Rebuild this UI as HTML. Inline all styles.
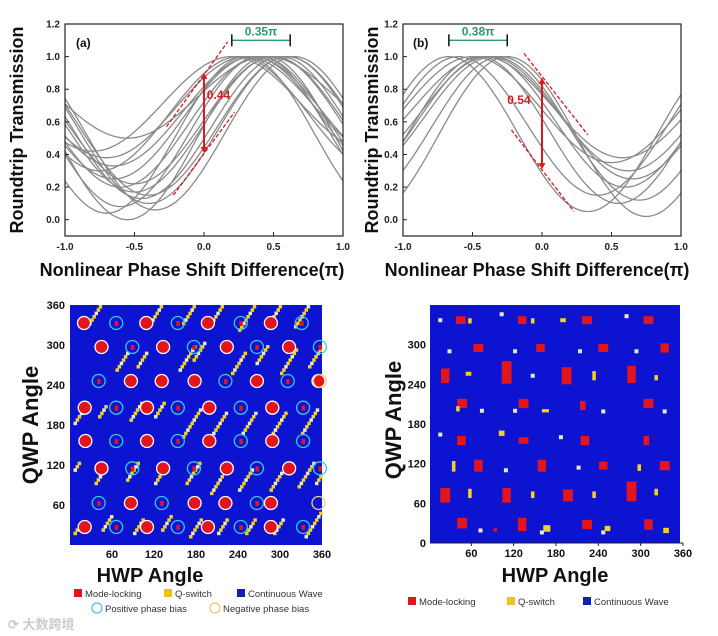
<!DOCTYPE html>
<html><head><meta charset="utf-8"><style>
body{margin:0;background:#fff;width:718px;height:636px;overflow:hidden}
svg{display:block;font-family:"Liberation Sans",Arial,sans-serif}
</style></head><body>
<svg id="fig" width="718" height="636" viewBox="0 0 718 636"></svg>
<script>
// ---- data panel (a)
const aPeaks=[0.45,0.2,0.3,0.25,0.35,0.4,0.5,0.55,0.6,0.65,0.3,0.45,0.5,0.35,0.6,0.4];
const aMins=[0.5,0.42,0.38,0.3,0.25,0.2,0.17,0.13,0.1,0.06,0.04,0.0,0.22,0.33,0.15,0.08];
// ---- data panel (b)
const bPeaks=[-0.67,-0.6,-0.5,-0.45,-0.4,-0.38,-0.35,-0.3,-0.25,-0.42];
const bMins=[0.05,0.15,0.35,0.1,0.2,0.3,0.25,0.12,0.02,0.38];
const yTicks=[0,0.2,0.4,0.6,0.8,1.0,1.2];
const xTicks=[-1,-0.5,0,0.5,1];
// ---- heatmap (c): circles [hwp,qwp]
const cRed=[[20,333],[109,333],[197,333],[287,333],[45,297],[133,297],[224,297],[313,297],[87,246],[131,246],[178,246],[267,246],[355,246],[21,206],[110,206],[199,206],[289,206],[22,156],[110,156],[199,156],[289,156],[45,115],[133,115],[224,115],[313,115],[87,63],[178,63],[222,63],[287,63],[21,27],[110,27],[197,27],[287,27]];
const cCyan=[[66,333],[154,333],[244,333],[331,333],[89,297],[177,297],[267,297],[357,297],[41,246],[222,246],[311,246],[66,206],[154,206],[244,206],[333,206],[66,156],[154,156],[244,156],[333,156],[89,115],[177,115],[267,115],[357,115],[41,63],[131,63],[267,63],[66,27],[154,27],[244,27],[333,27]];
const cYellowRing=[[355,63],[357,246]];
// streaks: [hwp0, qwp0, cell count]
const cStreaks=[[26,330,6],[110,325,7],[160,330,8],[200,330,6],[240,320,8],[280,325,8],[320,325,7],
[65,260,6],[95,265,5],[155,260,8],[175,275,6],[230,255,7],[265,270,6],[300,255,8],[340,265,8],
[5,180,5],[40,190,4],[85,185,6],[120,190,5],[160,160,9],[200,160,8],[245,165,7],[285,160,8],[330,165,8],
[5,110,3],[35,90,5],[80,95,6],[120,90,5],[165,90,7],[200,75,8],[240,80,7],[285,80,6],[325,85,8],[350,90,4],
[5,15,4],[45,20,5],[90,15,5],[130,20,5],[170,10,6],[210,15,5],[250,15,5],[290,15,5],[335,10,8]];
// ---- heatmap (d): red blobs [hwp,qwp,wDeg,hDeg]
const dRed=[[45,337,14,12],[132,337,12,12],[224,337,14,12],[311,337,14,12],
[70,295,14,12],[158,295,12,12],[247,295,14,12],[334,295,12,14],
[23,253,12,22],[110,258,14,34],[195,253,14,26],[287,255,12,26],
[47,211,14,14],[134,211,14,14],[218,208,8,14],[311,211,14,14],
[46,155,12,14],[134,155,14,10],[221,155,12,14],[308,155,8,14],
[70,117,12,18],[160,117,12,18],[247,117,12,12],[334,117,14,14],
[23,72,14,22],[110,72,12,22],[197,72,14,18],[287,78,14,30],
[47,30,14,16],[132,28,12,20],[224,28,14,14],[311,28,12,16],[94,20,5,5]];
const dYellow=[[58,336,5,8],[147,336,5,8],[190,337,8,6],[56,256,8,6],[234,253,5,14],[322,250,5,8],[41,203,5,8],[165,200,10,5],[103,166,8,8],[35,116,5,16],[298,114,5,10],[58,75,5,14],[147,73,5,10],[234,73,5,10],[322,77,5,10],[167,22,10,10],[253,22,8,8],[336,19,8,8]];
const dWhite=[[16,337],[103,346],[280,343],[29,290],[122,290],[214,290],[294,290],[147,253],[75,200],[122,200],[247,199],[334,199],[16,164],[187,160],[109,110],[212,114],[73,19],[247,16],[160,16]];

const svg=document.getElementById('fig');
const NS='http://www.w3.org/2000/svg';
function mk(tag,attrs,parent,text){const e=document.createElementNS(NS,tag);for(const k in attrs)e.setAttribute(k,attrs[k]);if(text!==undefined)e.textContent=text;(parent||svg).appendChild(e);return e;}

function linePanel(id,x0,x1,y0,y1,peaks,mins){
  const sx=v=>x0+(v+1)/2*(x1-x0);
  const sy=v=>y1-(v+0.1)/1.3*(y1-y0);
  const g=mk('g',{},svg);
  
  
  const cp=mk('clipPath',{id:'clip'+id},g);
  mk('rect',{x:x0,y:y0,width:x1-x0,height:y1-y0},cp);
  const cg=mk('g',{'clip-path':'url(#clip'+id+')'},g);
  peaks.forEach((p,i)=>{
    let d='';
    for(let k=0;k<=120;k++){const x=-1+k/60;const v=mins[i]+(1-mins[i])*(1+Math.cos(Math.PI*(x-p)))/2;d+=(k?'L':'M')+sx(x).toFixed(1)+','+sy(v).toFixed(1);}
    const pth=mk('path',{d:d,fill:'none',stroke:'#8a8a8a','stroke-width':1.3},cg);
    
    
  });
  const fr=mk('rect',{x:x0,y:y0,width:x1-x0,height:y1-y0,fill:'none',stroke:'#222','stroke-width':1.2},g);
  
  
  yTicks.forEach(t=>{
    mk('line',{x1:x0,x2:x0+4,y1:sy(t),y2:sy(t),stroke:'#222'},g);
    const tl=mk('text',{x:x0-5,y:sy(t)+3.5,'text-anchor':'end','font-size':10,'font-weight':'bold',fill:'#222'},g,t.toFixed(1));
    
    
  });
  xTicks.forEach(t=>{
    mk('line',{x1:sx(t),x2:sx(t),y1:y1,y2:y1-4,stroke:'#222'},g);
    const tl=mk('text',{x:sx(t),y:y1+14,'text-anchor':'middle','font-size':10,'font-weight':'bold',fill:'#222'},g,t.toFixed(1));
    
    
  });
  return {sx,sy,g};
}
function txt(x,y,s,size,name,extra){const t=mk('text',Object.assign({x:x,y:y,'font-size':size,'font-weight':'bold',fill:'#111'},extra||{}),svg,s);return t;}

// panel a
const A=linePanel('a',65,343,24,236,aPeaks,aMins);
txt(76,47,'(a)',12,'panel-label-a');
txt(17,130,'Roundtrip Transmission',18,'y-axis-title-a',{transform:'rotate(-90 17 130)','text-anchor':'middle',y:136});
txt(192,276,'Nonlinear Phase Shift Difference(π)',18,'x-axis-title-a',{'text-anchor':'middle'});
function annot(P,b0,b1,lab,arrX,aTop,aBot,num,numX,numY,d1,d2){
  const g=P.g, by=P.sy(1.1);
  mk('line',{x1:P.sx(b0),x2:P.sx(b1),y1:by,y2:by,stroke:'#2e9a6a','stroke-width':1.3},g);
  mk('line',{x1:P.sx(b0),x2:P.sx(b0),y1:by-6,y2:by+6,stroke:'#111','stroke-width':1.5},g);
  mk('line',{x1:P.sx(b1),x2:P.sx(b1),y1:by-6,y2:by+6,stroke:'#111','stroke-width':1.5},g);
  txt((P.sx(b0)+P.sx(b1))/2,by-5,lab,12,'phase-bias-label',{'text-anchor':'middle',fill:'#2e9a6a'});
  mk('line',{x1:P.sx(arrX),x2:P.sx(arrX),y1:P.sy(aTop)+4,y2:P.sy(aBot)-4,stroke:'#d8191f','stroke-width':2},g);
  mk('path',{d:`M${P.sx(arrX)-3.5},${P.sy(aTop)+6}L${P.sx(arrX)},${P.sy(aTop)}L${P.sx(arrX)+3.5},${P.sy(aTop)+6}Z M${P.sx(arrX)-3.5},${P.sy(aBot)-6}L${P.sx(arrX)},${P.sy(aBot)}L${P.sx(arrX)+3.5},${P.sy(aBot)-6}Z`,fill:'#d8191f'},g);
  txt(P.sx(numX),P.sy(numY),num,12,'modulation-depth-label',{fill:'#d8191f'});
  [d1,d2].forEach(d=>mk('line',{x1:P.sx(d[0]),y1:P.sy(d[1]),x2:P.sx(d[2]),y2:P.sy(d[3]),stroke:'#d8191f','stroke-width':1.3,'stroke-dasharray':'4,2'},g));
}
annot(A,0.2,0.62,'0.35π',0,0.9,0.41,'0.44',0.02,0.74,[-0.27,0.57,0.17,1.09],[-0.22,0.15,0.22,0.66]);

// panel b
const B=linePanel('b',403,681,24,236,bPeaks,bMins);
txt(413,47,'(b)',12,'panel-label-b');
txt(372,130,'Roundtrip Transmission',18,'y-axis-title-b',{transform:'rotate(-90 372 130)','text-anchor':'middle',y:136});
txt(537,276,'Nonlinear Phase Shift Difference(π)',18,'x-axis-title-b',{'text-anchor':'middle'});
annot(B,-0.67,-0.25,'0.38π',0,0.87,0.31,'0.54',-0.25,0.71,[-0.13,1.02,0.33,0.52],[-0.22,0.55,0.23,0.05]);

// heatmap c
const BLUE='#0c14d2',RED='#e3151c',YEL='#f3d21e',WHT='#e9e9cc',CYAN='#3bc9d8';
(function(){
  const x0=70,x1=322,y0=305,y1=545;
  const hx=h=>x0+h/360*(x1-x0), qy=q=>y1-q/360*(y1-y0);
  const bg=mk('rect',{x:x0,y:y0,width:x1-x0,height:y1-y0,fill:BLUE});
  
  
  cStreaks.forEach((s,i)=>{
    for(let k=0;k<s[2];k++){
      const h=s[0]+k*3,q=s[1]+k*5;if(h>357||q>357)continue;
      const r=mk('rect',{x:hx(h),y:qy(q+5),width:3.5,height:3.5,fill:(k+i)%3===0?WHT:YEL});
      
      
    }
  });
  cRed.forEach(c=>{
    const e=mk('circle',{cx:hx(c[0]),cy:qy(c[1]),r:6.5,fill:RED,stroke:'#fff','stroke-width':1.3});
    
    
  });
  cCyan.forEach(c=>{
    mk('rect',{x:hx(c[0])-1.5,y:qy(c[1])-2,width:3.5,height:5,fill:RED});
    const e=mk('circle',{cx:hx(c[0]),cy:qy(c[1]),r:6.5,fill:'none',stroke:CYAN,'stroke-width':1.3});
    
    
  });
  cYellowRing.forEach(c=>{
    const e=mk('circle',{cx:hx(c[0]),cy:qy(c[1]),r:6.5,fill:'none',stroke:'#e8d27a','stroke-width':1.3});
    
    
  });
  [60,120,180,240,300,360].forEach(t=>{
    txt(hx(t),558,String(t),11,'x-tick-label-c',{'text-anchor':'middle'});
    txt(x0-5,qy(t)+4,String(t),11,'y-tick-label-c',{'text-anchor':'end'});
  });
})();
txt(150,582,'HWP Angle',20,'x-axis-title-c',{'text-anchor':'middle'});
txt(30,425,'QWP Angle',22,'y-axis-title-c',{transform:'rotate(-90 30 425)','text-anchor':'middle',y:433});

// heatmap d
(function(){
  const x0=429,x1=683,y0=305,y1=543;
  const hx=h=>x0+h/360*(x1-x0), qy=q=>y1-q/360*(y1-y0);
  const bg=mk('rect',{x:430,y:y0,width:250,height:y1-y0,fill:BLUE});
  
  
  dRed.forEach(b=>{
    const r=mk('rect',{x:hx(b[0]-b[2]/2),y:qy(b[1]+b[3]/2),width:b[2]/360*(x1-x0),height:b[3]/360*(y1-y0),fill:RED});
    
    
  });
  dYellow.forEach(b=>{
    const r=mk('rect',{x:hx(b[0]-b[2]/2),y:qy(b[1]+b[3]/2),width:b[2]/360*(x1-x0),height:b[3]/360*(y1-y0),fill:YEL});
    
    
  });
  dWhite.forEach(b=>{
    const r=mk('rect',{x:hx(b[0])-2,y:qy(b[1])-2,width:4,height:4,fill:WHT});
    
    
  });
  mk('line',{x1:430,x2:683,y1:y1,y2:y1,stroke:'#222'});
  [0,60,120,180,240,300].forEach(t=>txt(426,qy(t)+4,String(t),11,'y-tick-label-d',{'text-anchor':'end'}));
  [60,120,180,240,300,360].forEach(t=>{mk('line',{x1:hx(t),x2:hx(t),y1:y1,y2:y1+3,stroke:'#222'});txt(hx(t),557,String(t),11,'x-tick-label-d',{'text-anchor':'middle'});});
})();
txt(555,582,'HWP Angle',20,'x-axis-title-d',{'text-anchor':'middle'});
txt(393,420,'QWP Angle',22,'y-axis-title-d',{transform:'rotate(-90 393 420)','text-anchor':'middle',y:428});

// legends
function sq(x,y,c,label){mk('rect',{x:x,y:y-8,width:8,height:8,fill:c});const t=txt(x+11,y,label,9.5,'legend-entry',{'font-weight':'normal',fill:'#333'});}
sq(74,597,RED,'Mode-locking');sq(164,597,'#f0c020','Q-switch');sq(237,597,'#1020b0','Continuous Wave');
mk('circle',{cx:97,cy:608,r:5,fill:'none',stroke:CYAN,'stroke-width':1.2});
txt(105,612,'Positive phase bias',9.5,'legend-entry',{'font-weight':'normal',fill:'#333'});
mk('circle',{cx:215,cy:608,r:5,fill:'none',stroke:'#e0cc70','stroke-width':1.2});
txt(223,612,'Negative phase bias',9.5,'legend-entry',{'font-weight':'normal',fill:'#333'});
sq(408,605,RED,'Mode-locking');sq(507,605,'#f0c020','Q-switch');sq(583,605,'#1020b0','Continuous Wave');
txt(8,629,'⟳ 大数跨境',13,'watermark',{fill:'#ccc','font-family':'"Liberation Sans","Noto Sans CJK SC",sans-serif'});
</script>
</body></html>
